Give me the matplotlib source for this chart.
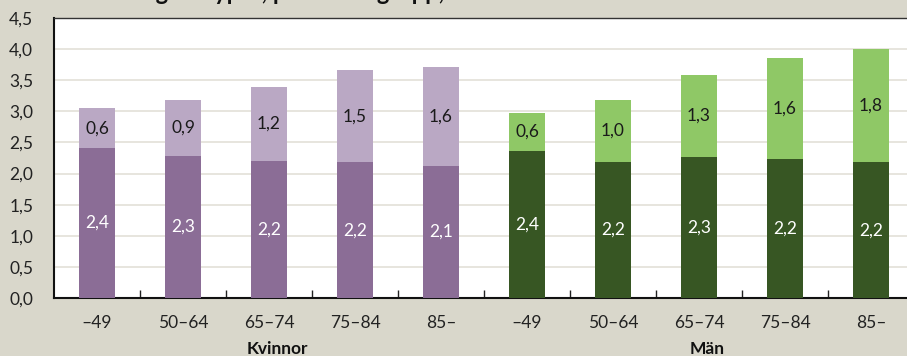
import matplotlib.pyplot as plt
import numpy as np

# ==============================================
# Data
# ==============================================
age_groups = ["–49", "50–64", "65–74", "75–84", "85–"]
group_names = ["Kvinnor", "Män"]

women_base = [2.41, 2.29, 2.20, 2.18, 2.12]
women_top = [0.64, 0.90, 1.19, 1.48, 1.59]
men_base = [2.37, 2.19, 2.26, 2.23, 2.18]
men_top = [0.60, 1.00, 1.33, 1.62, 1.82]

title_text = "Antal diagnostyper, per åldersgrupp, antal"

# ==============================================
# Styling
# ==============================================
BG = "#d9d7cb"
GRID = "#e3e0d8"
W_DARK, W_LIGHT = "#8b6d96", "#baa8c4"
M_DARK, M_LIGHT = "#375623", "#8fc866"

plt.rcParams['font.family'] = ['Lato', 'DejaVu Sans']


def fmt(v):
    return f"{v:.1f}".replace(".", ",")


fig = plt.figure(figsize=(9.07, 3.56), dpi=100, facecolor=BG)
W, H = 907, 356
# axes spans x from 54 px to 914 px (last category cut by the image edge)
ax = fig.add_axes([54 / W, 58 / H, 860 / W, 280 / H])
ax.set_facecolor("white")

n = len(age_groups)
x = np.arange(2 * n)
base = women_base + men_base
top = women_top + men_top
dark = [W_DARK] * n + [M_DARK] * n
light = [W_LIGHT] * n + [M_LIGHT] * n

bw = 0.41
ax.bar(x, base, width=bw, color=dark, zorder=3)
ax.bar(x, top, width=bw, bottom=base, color=light, zorder=3)

for xi, b, t in zip(x, base, top):
    ax.text(xi, b / 2, fmt(b), ha="center", va="center", color="white",
            fontsize=12.5, zorder=4)
    ax.text(xi, b + t / 2, fmt(t), ha="center", va="center", color="#1a1a1a",
            fontsize=12.5, zorder=4)

ax.set_xlim(-0.5, 2 * n - 0.5)
ax.set_ylim(0, 4.5)
yt = np.arange(0, 4.51, 0.5)
ax.set_yticks(yt)
ax.set_yticklabels([fmt(v) for v in yt], fontsize=12.5, color="#222222")
ax.yaxis.grid(True, color=GRID, linewidth=1.2, zorder=0)
ax.tick_params(axis="y", length=0, pad=15)

ax.set_xticks(x)
ax.set_xticklabels(age_groups * 2, fontsize=12.5, color="#222222")
ax.tick_params(axis="x", which="major", length=0, pad=12)
ax.set_xticks(np.arange(0.5, 2 * n - 1, 1.0), minor=True)
ax.tick_params(axis="x", which="minor", direction="in", length=6,
               width=1, color="#222222")

for side in ["left", "bottom"]:
    ax.spines[side].set_color("#111111")
    ax.spines[side].set_linewidth(1.5)
ax.spines["top"].set_color("#333333")
ax.spines["top"].set_linewidth(1.0)
ax.spines["right"].set_visible(False)

# group labels under the age groups
for gi, name in enumerate(group_names):
    ax.text(gi * n + (n - 1) / 2 + 0.1, -0.82, name, ha="center", va="center",
            fontsize=12.5, fontweight="bold", color="#111111",
            transform=ax.transData, clip_on=False)

# title, only its lowest strokes show at the top edge (as in the reference)
fig.text(62 / W, 352 / H, title_text, fontsize=17, fontweight="bold",
         va="bottom", ha="left", color="#111111")

fig.savefig("out.png", dpi=100, facecolor=BG)
